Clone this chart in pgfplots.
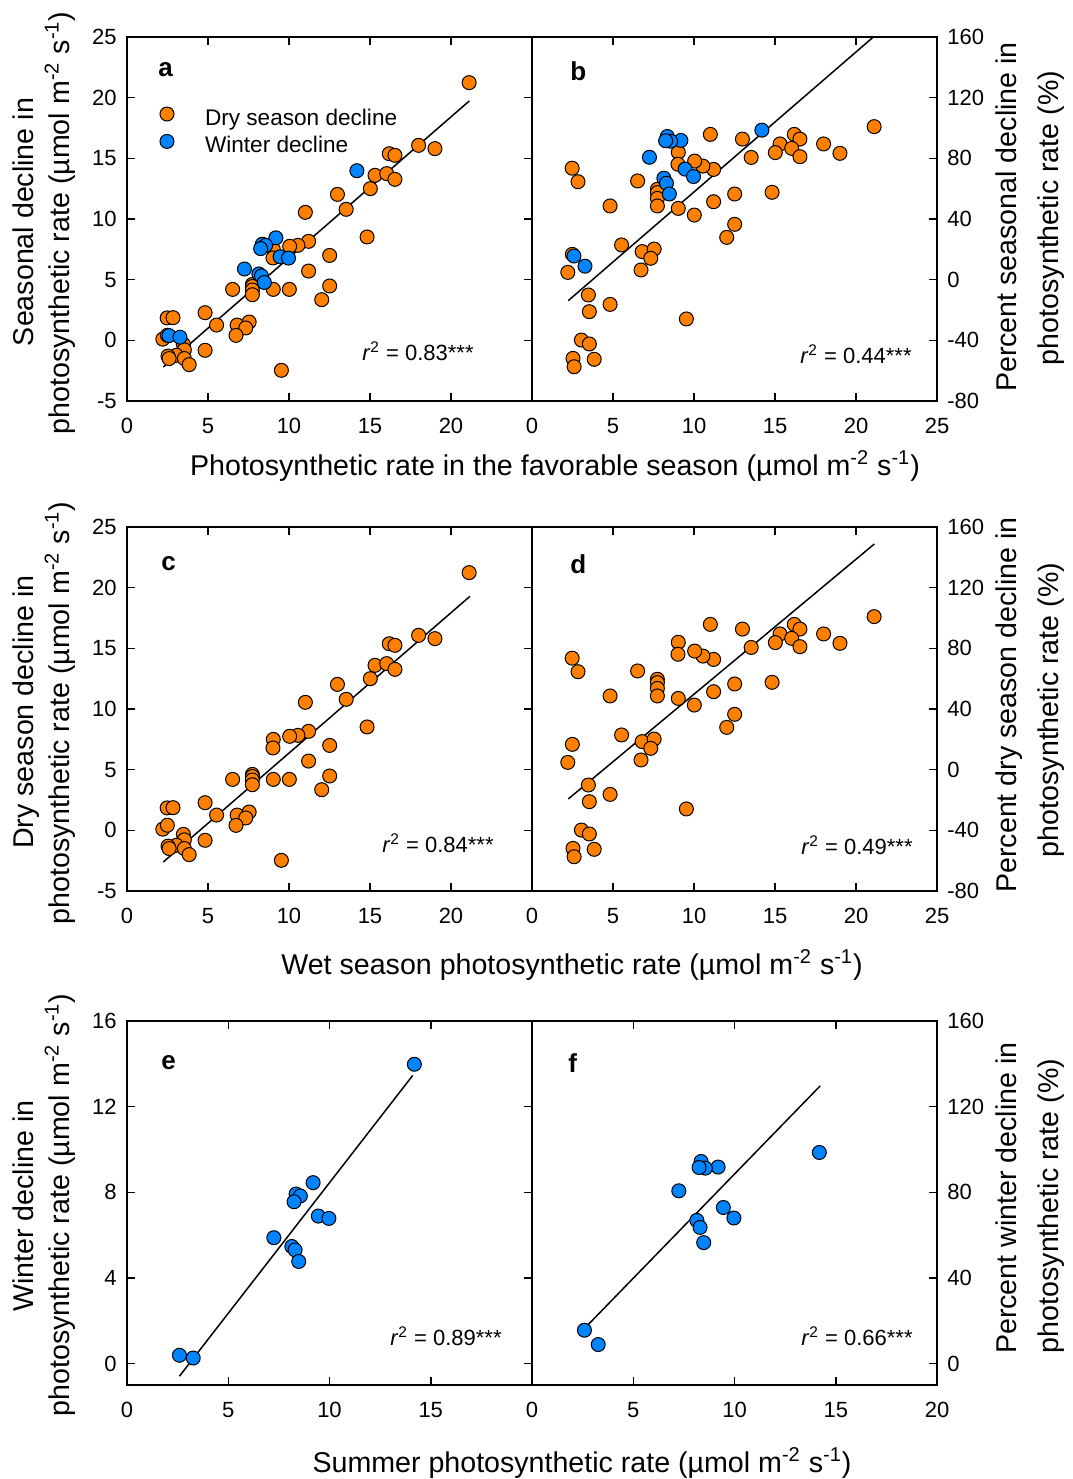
\documentclass[border=0pt]{standalone}
\usepackage{fontspec}
\setmainfont{Liberation Sans}
\usepackage{pgfplots}
\pgfplotsset{compat=1.18}
\usepackage{pgfplotstable}
\definecolor{dor}{RGB}{255,128,0}
\definecolor{wbl}{RGB}{0,132,255}

\pgfplotstableread{
x dec pct
21.12 21.24 100.9
18.00 16.07 89.5
19.01 15.80 83.3
16.19 15.38 95.8
16.54 15.25 92.7
15.31 13.60 89.5
15.02 12.50 83.8
16.03 13.74 86.6
16.54 13.27 81.1
12.99 12.03 92.7
13.53 10.80 80.6
11.01 10.55 95.8
14.82 8.52 57.6
11.21 8.16 72.7
10.55 7.83 74.9
10.04 7.75 78.2
9.03 7.50 84.0
9.01 6.79 76.1
12.51 7.00 56.5
11.21 5.71 51.4
10.02 4.20 42.6
9.03 4.20 47.0
12.51 4.48 36.5
12.02 3.35 27.9
6.52 4.20 65.1
7.74 4.61 59.6
7.74 4.44 57.4
7.74 4.15 53.6
7.74 3.76 48.6
4.82 2.28 48.6
2.48 1.85 73.5
2.84 1.87 64.6
5.53 1.26 22.9
6.80 1.26 18.5
7.54 1.51 20.2
7.33 1.02 14.1
6.73 0.41 6.4
2.21 0.10 4.8
2.49 0.42 16.7
3.48 -0.33 -10.1
3.54 -0.78 -21.1
4.82 -0.82 -16.3
9.53 -2.47 -25.9
3.05 -1.23 -39.8
3.54 -1.50 -42.4
2.53 -1.30 -51.9
2.60 -1.50 -57.4
3.84 -2.00 -52.5
}\dry

\pgfplotstableread{
x dec pct
14.19 13.98 98.6
9.19 8.45 91.8
8.35 7.92 94.4
8.56 7.83 91.3
8.25 7.56 91.6
9.45 6.89 72.9
9.97 6.78 68.0
7.25 5.88 80.7
8.14 5.47 66.9
8.30 5.31 63.6
8.48 4.77 56.5
2.59 0.39 15.6
3.27 0.26 8.9
}\win

\pgfplotsset{
  panel/.style={
    scale only axis, width=202.5pt, height=182pt,
    axis line style={line width=1pt},
    tick style={line width=0.75pt, black},
    major tick length=4.2pt,
    tick align=inside,
    xtick pos=both,
    ticklabel style={font=\fontsize{11}{13}\selectfont, inner sep=0pt},
    xticklabel style={anchor=base, yshift=-16pt},
  },
  leftp/.style={ytick pos=both, yticklabel pos=left,
    yticklabel style={anchor=east, xshift=-5pt}},
  rightp/.style={ytick pos=right, yticklabel pos=right,
    yticklabel style={anchor=west, xshift=5pt}},
  dmark/.style={only marks, mark=*, mark size=3.5pt,
    mark options={fill=dor, draw=black, line width=0.5pt}},
  bmark/.style={only marks, mark=*, mark size=3.5pt,
    mark options={fill=wbl, draw=black, line width=0.5pt}},
  fitline/.style={black, line width=0.75pt, no marks, forget plot},
}

\newcommand{\lab}{\fontsize{14.3}{17}\selectfont}
\newcommand{\plet}{\fontsize{13}{15}\selectfont\bfseries}
\newcommand{\rtxt}{\fontsize{11}{13}\selectfont}
\newcommand{\unit}{(µmol m\textsuperscript{-2} s\textsuperscript{-1})}

\begin{document}
\begin{tikzpicture}[x=0.5pt,y=-0.5pt]
\path[use as bounding box] (0,0) rectangle (1072,1479);

% ---------- row 1 ----------
\begin{axis}[panel, leftp, at={(63.5pt,-200.5pt)}, anchor=south west,
  xmin=0, xmax=25, ymin=-5, ymax=25,
  xtick={0,5,10,15,20,25}, xticklabels={0,5,10,15,20,},
  ytick={-5,0,5,10,15,20,25}, yticklabels={-5,0,5,10,15,20,25},
  legend style={at={(0,1)}, anchor=north west, xshift=16.5pt, yshift=-35pt,
    draw=none, fill=none, inner sep=0pt, outer sep=0pt,
    font=\fontsize{11.3}{13}\selectfont, row sep=2.2pt, column sep=15.5pt,
    nodes={inner sep=0pt, text height=0.75em, text depth=0.25em}},
  legend cell align=left,
  legend image code/.code={\draw[#1] plot coordinates {(0pt,3pt)};},
]
\addplot[fitline] coordinates {(2.24,-2.20) (21.13,19.73)};
\addplot[dmark] table[x=x,y=dec]{\dry};
\addlegendentry{Dry season decline}
\addplot[bmark] table[x=x,y=dec]{\win};
\addlegendentry{Winter decline}
\end{axis}

\begin{axis}[panel, rightp, at={(266pt,-200.5pt)}, anchor=south west,
  xmin=0, xmax=25, ymin=-80, ymax=160,
  xtick={0,5,10,15,20,25}, xticklabels={0,5,10,15,20,25},
  ytick={-80,-40,0,40,80,120,160}, yticklabels={-80,-40,0,40,80,120,160},
]
\addplot[fitline] coordinates {(2.24,-13.8) (21.07,160)};
\addplot[dmark] table[x=x,y=pct]{\dry};
\addplot[bmark] table[x=x,y=pct]{\win};
\end{axis}

% ---------- row 2 ----------
\begin{axis}[panel, leftp, at={(63.5pt,-445.5pt)}, anchor=south west,
  xmin=0, xmax=25, ymin=-5, ymax=25,
  xtick={0,5,10,15,20,25}, xticklabels={0,5,10,15,20,},
  ytick={-5,0,5,10,15,20,25}, yticklabels={-5,0,5,10,15,20,25},
]
\addplot[fitline] coordinates {(2.24,-2.61) (21.17,19.29)};
\addplot[dmark] table[x=x,y=dec]{\dry};
\end{axis}

\begin{axis}[panel, rightp, at={(266pt,-445.5pt)}, anchor=south west,
  xmin=0, xmax=25, ymin=-80, ymax=160,
  xtick={0,5,10,15,20,25}, xticklabels={0,5,10,15,20,25},
  ytick={-80,-40,0,40,80,120,160}, yticklabels={-80,-40,0,40,80,120,160},
]
\addplot[fitline] coordinates {(2.24,-19.3) (21.13,148.8)};
\addplot[dmark] table[x=x,y=pct]{\dry};
\end{axis}

% ---------- row 3 ----------
\begin{axis}[panel, leftp, at={(63.5pt,-692.5pt)}, anchor=south west,
  xmin=0, xmax=20, ymin=-1, ymax=16,
  xtick={0,5,10,15,20}, xticklabels={0,5,10,15,},
  ytick={0,4,8,12,16}, yticklabels={0,4,8,12,16},
]
\addplot[fitline] coordinates {(2.59,-0.59) (14.11,13.46)};
\addplot[bmark] table[x=x,y=dec]{\win};
\end{axis}

\begin{axis}[panel, rightp, at={(266pt,-692.5pt)}, anchor=south west,
  xmin=0, xmax=20, ymin=-10, ymax=160,
  xtick={0,5,10,15,20}, xticklabels={0,5,10,15,20},
  ytick={0,40,80,120,160}, yticklabels={0,40,80,120,160},
]
\addplot[fitline] coordinates {(2.61,16.6) (14.23,129.7)};
\addplot[bmark] table[x=x,y=pct]{\win};
\end{axis}

% ---------- panel letters ----------
\node[anchor=base west, inner sep=0pt, font=\plet] at (158,76) {a};
\node[anchor=base west, inner sep=0pt, font=\plet] at (570,80) {b};
\node[anchor=base west, inner sep=0pt, font=\plet] at (161,570) {c};
\node[anchor=base west, inner sep=0pt, font=\plet] at (570,573) {d};
\node[anchor=base west, inner sep=0pt, font=\plet] at (161,1069) {e};
\node[anchor=base west, inner sep=0pt, font=\plet] at (568,1072) {f};

% ---------- r2 ----------
\node[anchor=base east, inner sep=0pt, font=\rtxt] at (474,360) {\textit{r}\textsuperscript{2} = 0.83***};
\node[anchor=base east, inner sep=0pt, font=\rtxt] at (912,363) {\textit{r}\textsuperscript{2} = 0.44***};
\node[anchor=base east, inner sep=0pt, font=\rtxt] at (494,852) {\textit{r}\textsuperscript{2} = 0.84***};
\node[anchor=base east, inner sep=0pt, font=\rtxt] at (913,854) {\textit{r}\textsuperscript{2} = 0.49***};
\node[anchor=base east, inner sep=0pt, font=\rtxt] at (502,1345) {\textit{r}\textsuperscript{2} = 0.89***};
\node[anchor=base east, inner sep=0pt, font=\rtxt] at (913,1345) {\textit{r}\textsuperscript{2} = 0.66***};

% ---------- y labels ----------
\node[anchor=base, rotate=90, inner sep=0pt, font=\lab] at (33,222) {Seasonal decline in};
\node[anchor=base, rotate=90, inner sep=0pt, font=\lab] at (69,223) {photosynthetic rate \unit};
\node[anchor=base, rotate=90, inner sep=0pt, font=\lab] at (1016,217) {Percent seasonal decline in};
\node[anchor=base, rotate=90, inner sep=0pt, font=\lab] at (1058,218) {photosynthetic rate (\%)};

\node[anchor=base, rotate=90, inner sep=0pt, font=\lab] at (33,712) {Dry season decline in};
\node[anchor=base, rotate=90, inner sep=0pt, font=\lab] at (69,713) {photosynthetic rate \unit};
\node[anchor=base, rotate=90, inner sep=0pt, font=\lab] at (1016,705) {Percent dry season decline in};
\node[anchor=base, rotate=90, inner sep=0pt, font=\lab] at (1058,710) {photosynthetic rate (\%)};

\node[anchor=base, rotate=90, inner sep=0pt, font=\lab] at (33,1206) {Winter decline in};
\node[anchor=base, rotate=90, inner sep=0pt, font=\lab] at (69,1205) {photosynthetic rate \unit};
\node[anchor=base, rotate=90, inner sep=0pt, font=\lab] at (1016,1198) {Percent winter decline in};
\node[anchor=base, rotate=90, inner sep=0pt, font=\lab] at (1058,1206) {photosynthetic rate (\%)};

% ---------- x labels ----------
\node[anchor=base, inner sep=0pt, font=\lab] at (555,475) {Photosynthetic rate in the favorable season \unit};
\node[anchor=base, inner sep=0pt, font=\lab] at (572,974) {Wet season photosynthetic rate \unit};
\node[anchor=base, inner sep=0pt, font=\lab] at (582,1472) {Summer photosynthetic rate \unit};
\end{tikzpicture}
\end{document}
